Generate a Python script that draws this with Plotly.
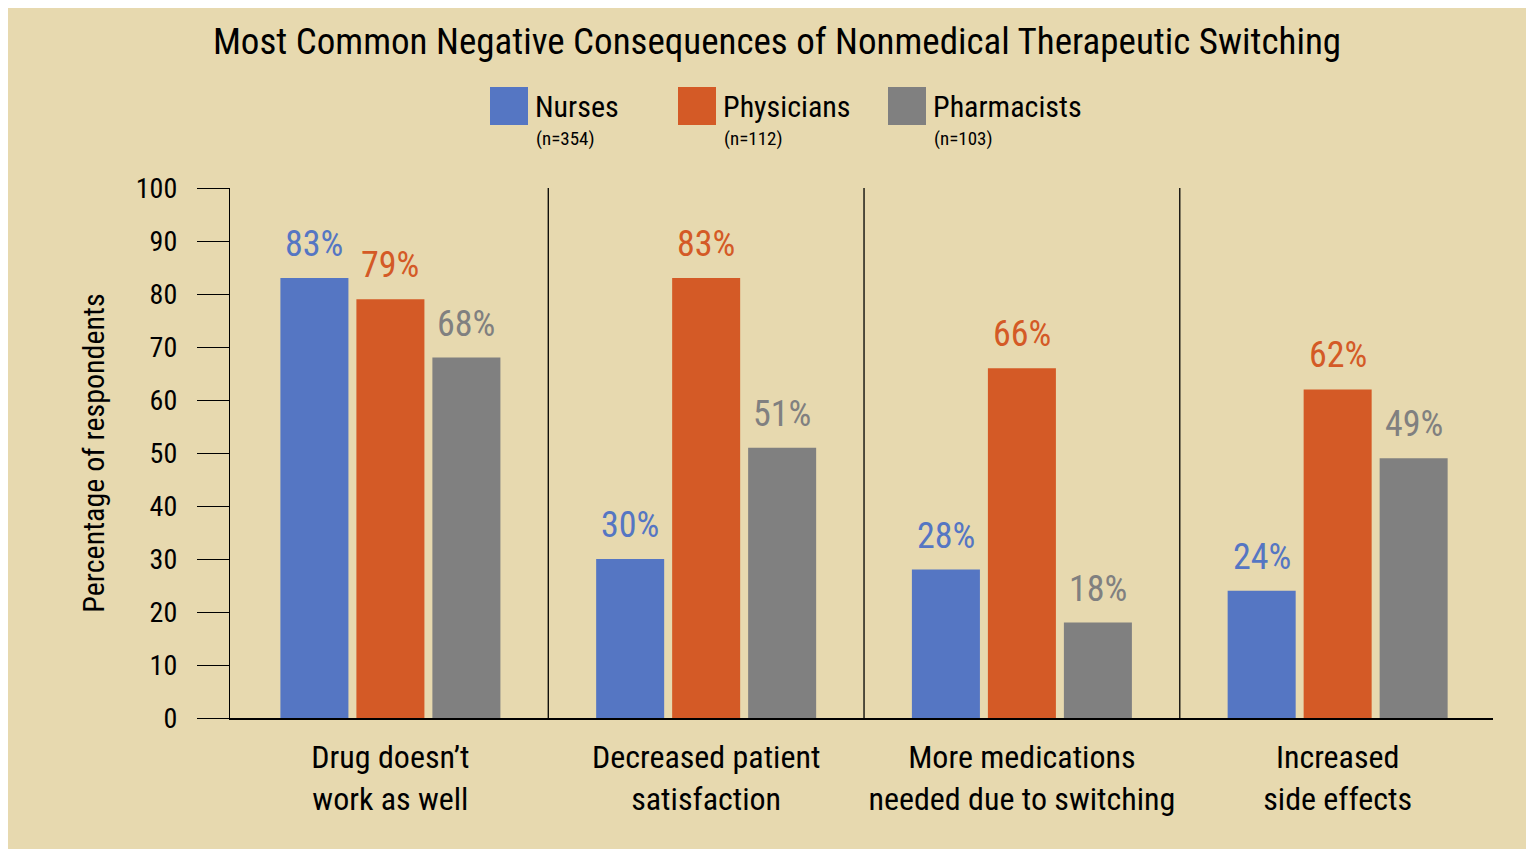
import plotly.graph_objects as go

categories = ["Drug doesn\u2019t<br>work as well", "Decreased patient<br>satisfaction",
              "More medications<br>needed due to switching", "Increased<br>side effects"]
nurses = [83, 30, 28, 24]
physicians = [79, 83, 66, 62]
pharmacists = [68, 51, 18, 49]
series_names = ["Nurses", "Physicians", "Pharmacists"]
series_n = ["(n=354)", "(n=112)", "(n=103)"]
colors = ["#5576C3", "#D45A26", "#808080"]
y_ticks = list(range(0, 101, 10))

FONT = "Roboto Condensed, Liberation Sans Narrow, Arial Narrow, sans-serif"

OFF = 8  # page body margin
W, H = 1534 - OFF, 849 - OFF
L, R, T, B = 230 - OFF, 41, 188 - OFF, 849 - 718
pw, ph = W - L - R, H - T - B
def px(x): return (x - OFF - L) / pw
def py(y): return (H - B - (y - OFF)) / ph

BARGAP, GROUPGAP = 0.278, 0.105
slot_px = (1 - BARGAP) * (pw / 4) / 3

fig = go.Figure()
annotations = []
all_series = [nurses, physicians, pharmacists]
for k, (name, vals, col) in enumerate(zip(series_names, all_series, colors)):
    fig.add_trace(go.Bar(
        x=list(range(len(categories))), y=vals, name=name,
        marker=dict(color=col, line=dict(width=0)),
        cliponaxis=False, showlegend=False, hoverinfo="x+y",
    ))
    for i, v in enumerate(vals):
        annotations.append(dict(xref="x", yref="y", x=i, y=v, xshift=(k - 1) * slot_px,
                                yshift=11, xanchor="center", yanchor="bottom",
                                text=f"{v}%", showarrow=False,
                                font=dict(size=36, family=FONT, color=col)))

shapes = []
for b in [0.5, 1.5, 2.5]:
    shapes.append(dict(type="line", xref="x", yref="y", x0=b, x1=b, y0=0, y1=100,
                       line=dict(color="black", width=1.3)))

swatch_x = [490, 678, 888]
for sx, name, n, col in zip(swatch_x, series_names, series_n, colors):
    shapes.append(dict(type="rect", xref="paper", yref="paper", x0=px(sx), x1=px(sx + 38),
                       y0=py(125), y1=py(87), fillcolor=col, line=dict(width=0)))
    annotations.append(dict(xref="paper", yref="paper", x=px(sx + 43), y=py(106),
                            xanchor="left", yanchor="middle", text=name, showarrow=False,
                            font=dict(size=30, family=FONT, color="black")))
    annotations.append(dict(xref="paper", yref="paper", x=px(sx + 44), y=py(138),
                            xanchor="left", yanchor="middle", text=n, showarrow=False,
                            font=dict(size=19, family=FONT, color="black")))

fig.update_layout(
    width=W, height=H,
    margin=dict(l=L, r=R, t=T, b=B, pad=0),
    paper_bgcolor="#E7D9AF", plot_bgcolor="rgba(0,0,0,0)",
    title=dict(text="Most Common Negative Consequences of Nonmedical Therapeutic Switching",
               xref="container", x=(777 - OFF) / W, xanchor="center",
               yref="container", y=1 - (41 - OFF) / H, yanchor="middle",
               font=dict(size=37, family=FONT, color="black")),
    barmode="group", bargap=BARGAP, bargroupgap=GROUPGAP,
    shapes=shapes, annotations=annotations,
    font=dict(family=FONT, color="black"),
    xaxis=dict(tickvals=list(range(len(categories))), ticktext=categories,
               range=[-0.508, 3.492], showline=True, linecolor="black", linewidth=2,
               ticks="", ticklabelstandoff=10,
               tickfont=dict(size=32, family=FONT, color="black"),
               showgrid=False, zeroline=False),
    yaxis=dict(range=[0, 100], tickvals=y_ticks, ticks="outside", ticklen=32,
               tickcolor="black", tickwidth=1.3, showline=True, linecolor="black",
               linewidth=1.3, showgrid=False, zeroline=False, ticklabelstandoff=14,
               tickfont=dict(size=28, family=FONT, color="black"),
               title=dict(text="Percentage of respondents", standoff=22,
                          font=dict(size=30, family=FONT, color="black"))),
)

fig.write_html("out.html")
